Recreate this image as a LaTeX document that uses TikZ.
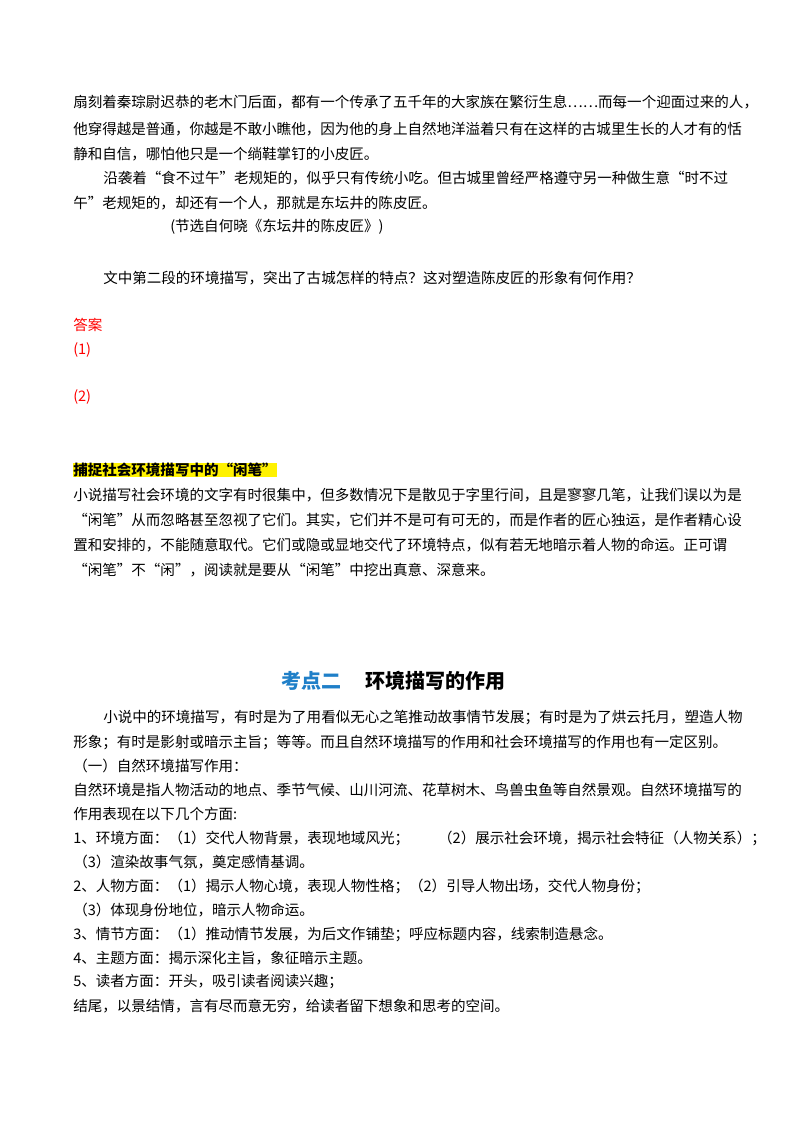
\documentclass[tikz,border=0pt]{standalone}
\usepackage{fontspec}
\setmainfont{Noto Sans CJK SC}
\begin{document}
\begin{tikzpicture}[x=0.75pt,y=-0.75pt,
  t/.style={anchor=west,inner sep=0pt,font=\fontsize{10.9pt}{13pt}\selectfont},
  r/.style={t,text=red},
  hl/.style={t,fill=yellow,font=\fontsize{10.9pt}{13pt}\selectfont\bfseries}]
\useasboundingbox[fill=white] (0,0) rectangle (800,1132);
\node[t] (l1) at (73,102) {扇刻着秦琮尉迟恭的老木门后面，都有一个传承了五千年的大家族在繁衍生息……而每一个迎面过来的人，};
\node[t] (l2) at (73,129) {他穿得越是普通，你越是不敢小瞧他，因为他的身上自然地洋溢着只有在这样的古城里生长的人才有的恬};
\node[t] (l3) at (73,154) {静和自信，哪怕他只是一个绱鞋掌钉的小皮匠。};
\node[t] (l4) at (103,178) {沿袭着“食不过午”老规矩的，似乎只有传统小吃。但古城里曾经严格遵守另一种做生意“时不过};
\node[t] (l5) at (73,203) {午”老规矩的，却还有一个人，那就是东坛井的陈皮匠。};
\node[t] (l6) at (170,227) {(节选自何晓《东坛井的陈皮匠》)};
\node[t] (q) at (103,278) {文中第二段的环境描写，突出了古城怎样的特点？这对塑造陈皮匠的形象有何作用？};
\node[r] (a0) at (73,325) {答案};
\node[r] (a1) at (73,350) {(1)};
\node[r] (a2) at (73,397) {(2)};
\node[hl] (h) at (73,470) {捕捉社会环境描写中的“闲笔”};
\node[t] (p1) at (73,495) {小说描写社会环境的文字有时很集中，但多数情况下是散见于字里行间，且是寥寥几笔，让我们误以为是};
\node[t] (p2) at (73,520) {“闲笔”从而忽略甚至忽视了它们。其实，它们并不是可有可无的，而是作者的匠心独运，是作者精心设};
\node[t] (p3) at (73,545) {置和安排的，不能随意取代。它们或隐或显地交代了环境特点，似有若无地暗示着人物的命运。正可谓};
\node[t] (p4) at (73,570) {“闲笔”不“闲”，阅读就是要从“闲笔”中挖出真意、深意来。};
\node[anchor=west,inner sep=0pt,font=\fontsize{15pt}{18pt}\selectfont\bfseries] (title) at (281,681)
  {\textcolor[HTML]{1F7FC8}{考点二}\hspace{1.2em}环境描写的作用};
\node[t] (s1) at (103,718) {小说中的环境描写，有时是为了用看似无心之笔推动故事情节发展；有时是为了烘云托月，塑造人物};
\node[t] (s2) at (73,742) {形象；有时是影射或暗示主旨；等等。而且自然环境描写的作用和社会环境描写的作用也有一定区别。};
\node[t] (s3) at (73,766) {（一）自然环境描写作用：};
\node[t] (s4) at (73,790) {自然环境是指人物活动的地点、季节气候、山川河流、花草树木、鸟兽虫鱼等自然景观。自然环境描写的};
\node[t] (s5) at (73,814) {作用表现在以下几个方面:};
\node[t] (s6) at (73,838) {1、环境方面：（1）交代人物背景，表现地域风光；\hspace{2em}（2）展示社会环境，揭示社会特征（人物关系）；};
\node[t] (s7) at (73,862) {（3）渲染故事气氛，奠定感情基调。};
\node[t] (s8) at (73,886) {2、人物方面：（1）揭示人物心境，表现人物性格；（2）引导人物出场，交代人物身份；};
\node[t] (s9) at (73,910) {（3）体现身份地位，暗示人物命运。};
\node[t] (s10) at (73,934) {3、情节方面：（1）推动情节发展，为后文作铺垫；呼应标题内容，线索制造悬念。};
\node[t] (s11) at (73,958) {4、主题方面：揭示深化主旨，象征暗示主题。};
\node[t] (s12) at (73,982) {5、读者方面：开头，吸引读者阅读兴趣；};
\node[t] (s13) at (73,1006) {结尾，以景结情，言有尽而意无穷，给读者留下想象和思考的空间。};
\end{tikzpicture}
\end{document}
